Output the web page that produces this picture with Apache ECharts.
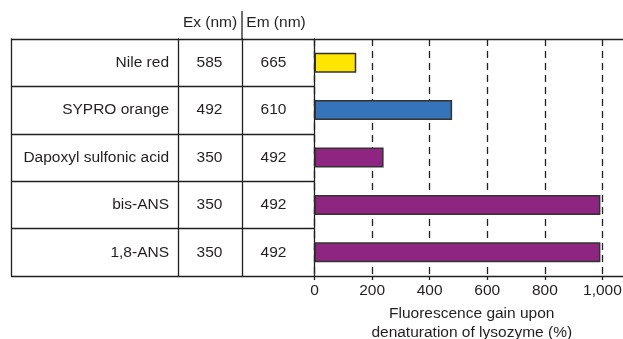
<!DOCTYPE html>
<html>
<head>
<meta charset="utf-8">
<title>Fluorescence gain</title>
<script src="https://cdn.jsdelivr.net/npm/echarts@6/dist/echarts.min.js"></script>
<style>
  html, body { margin: 0; padding: 0; background: #fff; }
  #chart { width: 623px; height: 339px; }
</style>
</head>
<body>
<div id="chart"></div>
<script>
// data
var dyes = ['Nile red', 'SYPRO orange', 'Dapoxyl sulfonic acid', 'bis-ANS', '1,8-ANS'];
var exValues = ['585', '492', '350', '350', '350'];
var emValues = ['665', '610', '492', '492', '492'];
var gain = [145, 478, 240, 993, 993];
var barColors = ['#ffe600', '#3574b9', '#8e2580', '#8e2580', '#8e2580'];
var columnHeaders = ['Ex (nm)', 'Em (nm)'];
var xTicks = [0, 200, 400, 600, 800, 1000];

var ink = '#231f20';
var fontName = "'Liberation Sans', Arial, sans-serif";

var chart = echarts.init(document.getElementById('chart'));

// one category axis per table column line
function tableAxis(offset, labelOpt) {
    return {
        type: 'category',
        data: dyes,
        inverse: true,
        position: 'left',
        offset: offset,
        axisLine: { show: true, onZero: false, lineStyle: { color: ink, width: 1.3 } },
        axisTick: { show: false },
        axisLabel: labelOpt || { show: false }
    };
}

function headerText(str, x) {
    return {
        type: 'text',
        x: x, y: 22.5,
        style: { text: str, fill: ink, font: '15.5px ' + fontName, align: 'center', verticalAlign: 'middle' }
    };
}

var option = {
    animation: false,
    grid: { left: 314.5, top: 39, bottom: 63, right: -1, outerBoundsMode: 'none', containLabel: false },
    xAxis: [{
        type: 'value',
        min: 0,
        max: 1075,
        interval: 200,
        axisLine: { show: true, onZero: false, lineStyle: { color: ink, width: 1.3 } },
        axisTick: { show: true, length: 4, lineStyle: { color: ink, width: 1.3 } },
        splitLine: { show: true, lineStyle: { color: ink, width: 1.3, type: [7, 5] } },
        axisLabel: {
            margin: 7,
            color: ink,
            fontSize: 15.5,
            fontFamily: fontName,
            showMaxLabel: false,
            formatter: function (v) {
                return xTicks.indexOf(v) >= 0 ? v.toLocaleString('en-US') : '';
            }
        },
        name: 'Fluorescence gain upon\ndenaturation of lysozyme (%)',
        nameLocation: 'middle',
        nameGap: 27,
        nameTextStyle: { color: ink, fontSize: 15.5, fontFamily: fontName, lineHeight: 19, padding: [0, 0, 0, 5] }
    }, {
        type: 'value',
        position: 'top',
        min: 0,
        max: 1075,
        axisLine: { show: true, onZero: false, lineStyle: { color: ink, width: 1.3 } },
        axisTick: { show: false },
        axisLabel: { show: false },
        splitLine: { show: false }
    }],
    yAxis: [{
        // dye names, row lines drawn as long ticks
        type: 'category',
        data: dyes,
        inverse: true,
        axisLine: { show: true, onZero: false, lineStyle: { color: ink, width: 1.3 } },
        axisTick: { show: true, length: 303.5, lineStyle: { color: ink, width: 1.3 } },
        axisLabel: { margin: 145.5, color: ink, fontSize: 15.5, fontFamily: fontName }
    },
    tableAxis(136.5, {
        inside: true, margin: 31.5, align: 'center',
        color: ink, fontSize: 15.5, fontFamily: fontName,
        formatter: function (v, i) { return exValues[i]; }
    }),
    tableAxis(72.5, {
        inside: true, margin: 31.5, align: 'center',
        color: ink, fontSize: 15.5, fontFamily: fontName,
        formatter: function (v, i) { return emValues[i]; }
    }),
    tableAxis(303.5)],
    graphic: [
        headerText(columnHeaders[0], 210),
        headerText(columnHeaders[1], 276),
        {
            type: 'line',
            shape: { x1: 242, y1: 11, x2: 242, y2: 39 },
            style: { stroke: ink, lineWidth: 1.3 }
        }
    ],
    series: [{
        type: 'bar',
        xAxisIndex: 0,
        yAxisIndex: 0,
        barWidth: 20,
        data: gain.map(function (v, i) {
            return { value: v, itemStyle: { color: barColors[i] } };
        }),
        itemStyle: { borderColor: '#333', borderWidth: 1.5 }
    }]
};

chart.setOption(option);
</script>
</body>
</html>
